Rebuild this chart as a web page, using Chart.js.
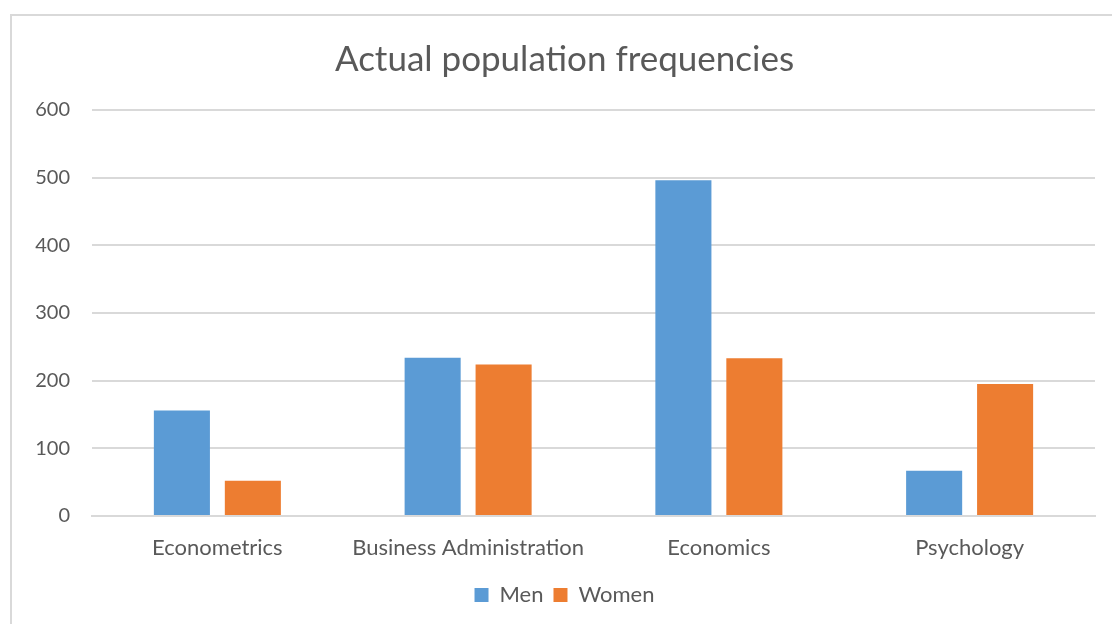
<!DOCTYPE html>
<html>
<head>
<meta charset="utf-8">
<script src="https://cdn.jsdelivr.net/npm/chart.js@4"></script>
<style>
  html, body { margin: 0; padding: 0; background: #fff; }
  .wrap { position: relative; width: 1112px; height: 624px; }
  .frame {
    position: absolute; left: 10px; top: 14px; width: 1120px; height: 640px;
    border: 2px solid #d9d9d9; pointer-events: none;
  }
</style>
</head>
<body>
<div class="wrap">
  <canvas id="chart" width="1112" height="624"></canvas>
  <div class="frame"></div>
</div>
<script>
const categories = ["Econometrics", "Business Administration", "Economics", "Psychology"];
const men = [156, 234, 496, 67];
const women = [52, 224, 233, 195];
const yTicks = [0, 100, 200, 300, 400, 500, 600];

const textColor = "#595959";
const gridColor = "#d9d9d9";
Chart.defaults.font.family = "Lato, 'Open Sans', sans-serif";
Chart.defaults.color = textColor;

const ctx = document.getElementById("chart");

const chart = new Chart(ctx, {
  type: "bar",
  data: {
    labels: categories,
    datasets: [
      {
        label: "Men",
        data: men,
        backgroundColor: "#5b9bd5",
      },
      {
        label: "Women",
        data: women,
        backgroundColor: "#ed7d31",
      },
    ],
  },
  options: {
    responsive: false,
    animation: false,
    categoryPercentage: 0.566,
    barPercentage: 0.79,
    layout: {
      // left padding shifts the title / legend centre to match the frame
      padding: { left: 34, right: 17, top: 0, bottom: 8 },
    },
    scales: {
      x: {
        grid: { display: false, drawTicks: false },
        border: { display: true, color: gridColor, width: 2 },
        ticks: {
          padding: 19,
          font: { size: 22 },
          color: textColor,
          maxRotation: 0,
        },
        afterFit: (scale) => {
          scale.height = 58;
        },
      },
      y: {
        min: 0,
        max: 600,
        afterBuildTicks: (scale) => {
          scale.ticks = yTicks.map((v) => ({ value: v }));
        },
        grid: { color: gridColor, lineWidth: 2, drawTicks: false },
        border: { display: false },
        ticks: {
          padding: 22,
          font: { size: 20 },
          color: textColor,
        },
        afterFit: (scale) => {
          scale.width = 58;
        },
      },
    },
    plugins: {
      title: {
        display: true,
        text: "Actual population frequencies",
        color: textColor,
        font: { size: 35, weight: "normal" },
        padding: { top: 39, bottom: 29 },
      },
      legend: {
        display: true,
        position: "bottom",
        labels: {
          boxWidth: 14,
          boxHeight: 14,
          padding: 10,
          font: { size: 22 },
          color: textColor,
        },
      },
      tooltip: { enabled: false },
    },
  },
});
</script>
</body>
</html>
